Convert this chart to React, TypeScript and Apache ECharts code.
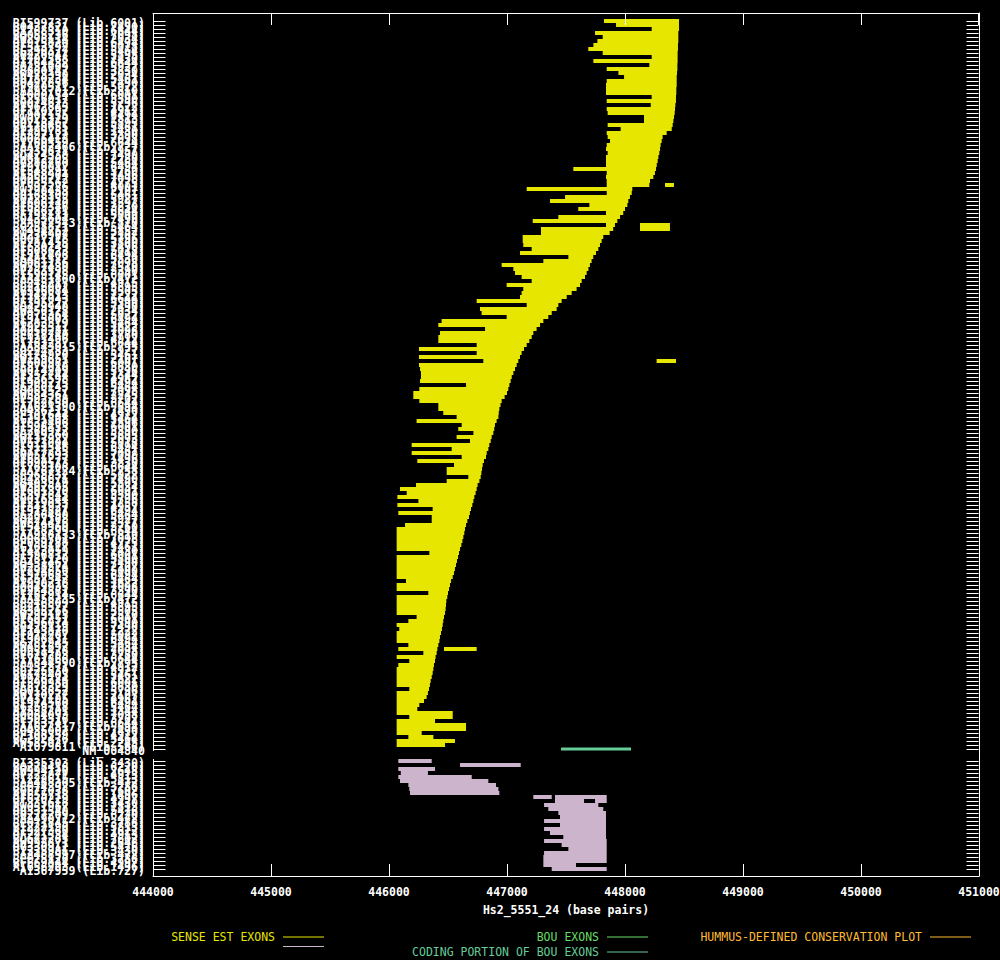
import React, { useEffect, useRef } from "react";
import * as echarts from "echarts";

// ---- axis ----
const X_MIN = 444000;
const X_MAX = 451000;
const X_INTERVAL = 1000;
const X_TICKS: number[] = [444000, 445000, 446000, 447000, 448000, 449000, 450000, 451000];
const AXIS_TITLE = "Hs2_5551_24 (base pairs)";

// ---- sense EST exons (one entry per row: start1,end1[,start2,end2]) ----
const senseExons: number[][] = [
  [447822, 448458], [447924, 448458], [448226, 448458], [447746, 448452], [447811, 448452],
  [447766, 448452], [447732, 448449], [447689, 448449], [447811, 448446], [448226, 448446],
  [447732, 448446], [448206, 448444], [447845, 448444], [447944, 448441], [447992, 448438],
  [447845, 448438], [447839, 448438], [447839, 448435], [447839, 448435], [448226, 448432],
  [447845, 448432], [448218, 448427], [447845, 448424], [447853, 448421], [448161, 448415],
  [448161, 448410], [447853, 448404], [447963, 448396], [447845, 448353], [447853, 448319],
  [447873, 448311], [447845, 448302], [447839, 448297], [447853, 448291], [447839, 448283],
  [447839, 448277], [447839, 448269], [447562, 448263], [447845, 448254], [447839, 448240],
  [447845, 448212], [447845, 448206, 448339, 448415], [447167, 448062], [447845, 448057], [447492, 448042],
  [447364, 448028], [447698, 448020], [447604, 448000], [447839, 447985], [447435, 447958],
  [447218, 447935], [447839, 447915, 448127, 448381], [447288, 447900, 448127, 448381], [447288, 447870], [447133, 447816],
  [447133, 447802], [447138, 447788], [447209, 447774], [447110, 447754], [447520, 447731],
  [447308, 447717], [446955, 447703], [447054, 447690], [447068, 447675], [447124, 447661],
  [447209, 447633], [446997, 447619], [447138, 447590], [447124, 447548], [447110, 447506],
  [446743, 447463], [447167, 447435], [446771, 447421], [446785, 447379], [446997, 447350],
  [446446, 447308], [446418, 447280], [446814, 447251], [446432, 447223], [446418, 447209],
  [446418, 447189], [446743, 447167], [446254, 447144], [446743, 447124], [446254, 447110],
  [446799, 447096, 448268, 448432], [446254, 447082], [446263, 447068], [446271, 447054], [446271, 447040],
  [446263, 447031], [446653, 447020], [446257, 447011], [446206, 447000], [446206, 446980],
  [446257, 446955], [446418, 446945], [446418, 446935], [446460, 446930], [446573, 446927],
  [446234, 446912], [446616, 446898], [446587, 446892], [446715, 446884], [446573, 446870],
  [446686, 446862], [446192, 446850], [446531, 446842], [446192, 446828], [446616, 446822],
  [446240, 446805], [446551, 446794], [446489, 446788], [446489, 446783], [446672, 446777],
  [446489, 446766], [446229, 446751], [446093, 446743], [446150, 446734], [446071, 446723],
  [446249, 446715], [446071, 446706], [446370, 446695], [446079, 446686], [446362, 446678],
  [446362, 446664], [446136, 446653], [446065, 446644], [446065, 446638], [446065, 446630],
  [446065, 446622], [446065, 446613], [446065, 446602], [446342, 446593], [446065, 446585],
  [446065, 446576], [446065, 446568], [446065, 446559], [446065, 446551], [446065, 446540],
  [446144, 446526], [446065, 446517], [446065, 446509], [446333, 446500], [446065, 446494],
  [446065, 446486], [446065, 446483], [446065, 446480], [446065, 446475], [446234, 446466],
  [446164, 446460], [446065, 446455], [446087, 446449], [446065, 446441], [446065, 446432],
  [446065, 446427], [446164, 446418], [446079, 446410, 446466, 446743], [446291, 446404], [446065, 446395],
  [446172, 446390], [446079, 446381], [446065, 446376], [446065, 446370], [446065, 446362],
  [446065, 446353], [446065, 446347], [446172, 446339], [446065, 446330], [446065, 446319],
  [446065, 446297], [446065, 446257], [446065, 446240], [446065, 446540], [446172, 446540],
  [446065, 446390], [446065, 446653], [446065, 446653], [446065, 446277], [446164, 446376],
  [446065, 446559], [446065, 446475],
];

const senseLabels: string[] = [
  "BI599737 (Lib.6001)", "BQ437821 (Lib.7490)", "BI768310 (Lib.6644)", "BQ055236 (Lib.7098)", "AW298114 (Lib.2034)",
  "BI915820 (Lib.6494)", "BF513792 (Lib.5018)", "BG290377 (Lib.5464)", "BQ220947 (Lib.5895)", "AI702568 (Lib.1430)",
  "BI764432 (Lib.6644)", "BQ231009 (Lib.5927)", "BE880147 (Lib.3830)", "AW473390 (Lib.2034)", "BG180234 (Lib.5461)",
  "BQ427856 (Lib.7490)", "BF970511 (Lib.5022)", "AA937012 (Lib.810)", "BI600154 (Lib.6001)", "BE256017 (Lib.3390)",
  "BQ014623 (Lib.5796)", "AI962845 (Lib.1622)", "BF110297 (Lib.4912)", "BI907155 (Lib.6494)", "AW025319 (Lib.1813)",
  "BQ218467 (Lib.5895)", "BG170655 (Lib.5461)", "AI299781 (Lib.1430)", "BE397122 (Lib.3390)", "BQ066413 (Lib.7098)",
  "BI760559 (Lib.6644)", "AA702466 (Lib.727)", "BF339871 (Lib.4957)", "BQ424338 (Lib.7490)", "AW612205 (Lib.2280)",
  "BG288760 (Lib.5464)", "BI910012 (Lib.6494)", "BE548291 (Lib.3760)", "AI568904 (Lib.1496)", "BQ050712 (Lib.7098)",
  "BF035562 (Lib.4775)", "BI597226 (Lib.6001)", "AW190433 (Lib.2107)", "BG168309 (Lib.5461)", "BQ228155 (Lib.5927)",
  "AI806740 (Lib.1592)", "BE889346 (Lib.3830)", "BI766281 (Lib.6644)", "BF792113 (Lib.5000)", "BQ433604 (Lib.7490)",
  "AA977543 (Lib.810)", "BG258871 (Lib.5464)", "BI494762 (Lib.5852)", "AW236907 (Lib.2107)", "BQ017718 (Lib.5796)",
  "BE781455 (Lib.3800)", "AI630149 (Lib.1496)", "BF508623 (Lib.5018)", "BI912408 (Lib.6494)", "BG481572 (Lib.5530)",
  "BQ061186 (Lib.7098)", "AW797430 (Lib.2510)", "BE263598 (Lib.3390)", "BI599145 (Lib.6001)", "AA451860 (Lib.472)",
  "BF245217 (Lib.4915)", "BQ216002 (Lib.5895)", "BG396084 (Lib.5505)", "AI142513 (Lib.1222)", "BI757043 (Lib.6644)",
  "BE395227 (Lib.3390)", "BQ429940 (Lib.7490)", "AW450178 (Lib.2034)", "BF973364 (Lib.5022)", "BI915003 (Lib.6494)",
  "BG283319 (Lib.5464)", "AI925511 (Lib.1622)", "BQ050281 (Lib.7098)", "BE618740 (Lib.3780)", "BF131406 (Lib.4912)",
  "BI763287 (Lib.6644)", "AA843015 (Lib.795)", "BQ224783 (Lib.5927)", "BG174920 (Lib.5461)", "AW169651 (Lib.2107)",
  "BI600982 (Lib.6001)", "BE879010 (Lib.3830)", "BQ014209 (Lib.5796)", "AI357744 (Lib.1344)", "BF436598 (Lib.4962)",
  "BI909275 (Lib.6494)", "BG260143 (Lib.5464)", "BQ065527 (Lib.7098)", "AW584361 (Lib.2245)", "BE502788 (Lib.3702)",
  "BI762650 (Lib.6644)", "AA621390 (Lib.694)", "BQ436215 (Lib.7490)", "BF107644 (Lib.4912)", "BG291808 (Lib.5464)",
  "AI832406 (Lib.1596)", "BI598433 (Lib.6001)", "BE260912 (Lib.3390)", "BQ219360 (Lib.5895)", "AW137922 (Lib.2093)",
  "BF513004 (Lib.5018)", "BI911546 (Lib.6494)", "BG177285 (Lib.5461)", "BQ052893 (Lib.7098)", "AI651277 (Lib.1496)",
  "BE890573 (Lib.3830)", "BI765108 (Lib.6644)", "AA767724 (Lib.758)", "BF968832 (Lib.5022)", "BQ426671 (Lib.7490)",
  "BG403519 (Lib.5505)", "AW302685 (Lib.2034)", "BI601370 (Lib.6001)", "BE397845 (Lib.3390)", "BQ016544 (Lib.5796)",
  "AI219053 (Lib.1258)", "BF341927 (Lib.4957)", "BI913827 (Lib.6494)", "BG286490 (Lib.5464)", "BQ227308 (Lib.5927)",
  "AW874416 (Lib.2577)", "BE549960 (Lib.3760)", "BI758299 (Lib.6644)", "AA928133 (Lib.810)", "BQ063701 (Lib.7098)",
  "BF039288 (Lib.4775)", "BG169117 (Lib.5461)", "AI473059 (Lib.1430)", "BI596812 (Lib.6001)", "BE781120 (Lib.3800)",
  "BQ431462 (Lib.7490)", "AW238574 (Lib.2107)", "BF794650 (Lib.5000)", "BI910683 (Lib.6494)", "BG257342 (Lib.5464)",
  "AI990218 (Lib.1622)", "BQ049935 (Lib.7098)", "BE264881 (Lib.3390)", "BI767914 (Lib.6644)", "AA456235 (Lib.472)",
  "BF246809 (Lib.4915)", "BQ215577 (Lib.5895)", "BG395266 (Lib.5505)", "AW799113 (Lib.2510)", "BI602251 (Lib.6001)",
  "BE396014 (Lib.3390)", "BQ428119 (Lib.7490)", "AI143870 (Lib.1222)", "BF972207 (Lib.5022)", "BI908731 (Lib.6494)",
  "BG282945 (Lib.5464)", "AW451692 (Lib.2034)", "BQ051478 (Lib.7098)", "BE619203 (Lib.3780)", "BI761866 (Lib.6644)",
  "AA844590 (Lib.795)", "BF132871 (Lib.4912)", "BQ225630 (Lib.5927)", "BG175403 (Lib.5461)", "AI926774 (Lib.1622)",
  "BI599980 (Lib.6001)", "BE878329 (Lib.3830)", "BQ013852 (Lib.5796)", "AW170277 (Lib.2107)", "BF437105 (Lib.4962)",
  "BI914560 (Lib.6494)", "BG259718 (Lib.5464)", "AI358201 (Lib.1344)", "BQ064093 (Lib.7098)", "BE503316 (Lib.3702)",
  "BI763741 (Lib.6644)", "AA622817 (Lib.694)", "BQ435002 (Lib.7490)", "BF108359 (Lib.4912)", "BG292476 (Lib.5464)",
  "AW585027 (Lib.2245)", "AI079811 (Lib.566)",
];

// ---- BOU (coding portion) ----
const bouLabel = "NM_004840";
const bouCoding: number[] = [447458, 448051];

// ---- antisense EST exons ----
const antisenseExons: number[][] = [
  [446079, 446362], [446602, 447116], [446079, 446390], [446100, 446330], [446079, 446701],
  [446093, 446842], [446164, 446907], [446172, 446927], [446178, 446935], [447223, 447379, 447407, 447845],
  [447407, 447653, 447746, 447845], [447314, 447774], [447350, 447816], [447435, 447839], [447449, 447839],
  [447314, 447839], [447449, 447839], [447314, 447839], [447364, 447839], [447477, 447839],
  [447314, 447845], [447463, 447845], [447520, 447845], [447314, 447845], [447308, 447845],
  [447308, 447845], [447308, 447585], [447379, 447845],
];

const antisenseLabels: string[] = [
  "BI335303 (Lib.3430)", "BQ278416 (Lib.6220)", "AW994120 (Lib.2648)", "BF222871 (Lib.4913)", "BI222615 (Lib.5813)",
  "AA488305 (Lib.472)", "BE674392 (Lib.3788)", "BQ671038 (Lib.7602)", "AI655718 (Lib.1496)", "BF670229 (Lib.4997)",
  "BI335618 (Lib.3430)", "AW051967 (Lib.1813)", "BG331540 (Lib.5476)", "BQ277209 (Lib.6220)", "AA490712 (Lib.472)",
  "BE671845 (Lib.3788)", "BI222190 (Lib.5813)", "AI927360 (Lib.1622)", "BF221534 (Lib.4913)", "BQ672285 (Lib.7602)",
  "AW993871 (Lib.2648)", "BG330912 (Lib.5476)", "BI335981 (Lib.3430)", "AA488997 (Lib.472)", "BE675120 (Lib.3788)",
  "BF669844 (Lib.4997)", "AI656203 (Lib.1496)", "AI367959 (Lib.727)",
];

// ---- legend names & colours ----
const SENSE = "SENSE EST EXONS";
const ANTISENSE = "ANTISENSE EST EXONS";
const BOU = "BOU EXONS";
const CODING = "CODING PORTION OF BOU EXONS";
const HUMMUS = "HUMMUS-DEFINED CONSERVATION PLOT";

const C_SENSE = "#e6e600";
const C_ANTI = "#ccb4cc";
const C_BOU = "#66dd66";
const C_CODING = "#66cc99";
const C_HUMMUS = "#ffbb33";

const FONT = "'DejaVu Sans Mono', 'Liberation Mono', monospace";

const Y_MIN = -2;
const Y_MAX = 213.75;
const BOU_ROW = senseExons.length; // 182
const ANTI_ROW0 = BOU_ROW + 3; // 185

function toBars(rows: number[][], row0: number) {
  const out: number[][] = [];
  rows.forEach((segs, i) => {
    for (let k = 0; k + 1 < segs.length; k += 2) out.push([segs[k], segs[k + 1], row0 + i]);
  });
  return out;
}

function xAxisBase(position: string) {
  return {
    type: "value",
    position,
    min: X_MIN,
    max: X_MAX,
    interval: X_INTERVAL,
    axisLine: { show: true, onZero: false, lineStyle: { color: "#fff", width: 1 } },
    axisTick: { show: true, inside: true, length: 12, lineStyle: { color: "#fff", width: 1 } },
    splitLine: { show: false },
  };
}

export default function App() {
  const ref = useRef<HTMLDivElement>(null);

  useEffect(() => {
    if (!ref.current) return;
    const chart = echarts.init(ref.current, null, { renderer: "svg" });

    const senseData = toBars(senseExons, 0);
    const antiData = toBars(antisenseExons, ANTI_ROW0);
    const codingData = [[bouCoding[0], bouCoding[1], BOU_ROW]];

    const allLabels: string[] = [...senseLabels, bouLabel, ...antisenseLabels];
    const labelRows: number[] = [
      ...senseLabels.map((_, i) => i),
      BOU_ROW,
      ...antisenseLabels.map((_, i) => ANTI_ROW0 + i),
    ];
    const labelData = labelRows.map((r) => [X_MIN, r]);

    const barRender = (hFrac: number) => (params: any, api: any) => {
      const s = api.coord([api.value(0), api.value(2)]);
      const e = api.coord([api.value(1), api.value(2)]);
      const h = api.size([0, 1])[1] * hFrac;
      return {
        type: "rect",
        shape: { x: s[0], y: s[1] - h / 2, width: Math.max(1, e[0] - s[0]), height: h },
        style: { fill: api.visual("color") },
      };
    };

    const labelRender = (params: any, api: any) => {
      const row = api.value(1);
      const p = api.coord([X_MIN, row]);
      const q = api.coord([X_MAX, row]);
      const h = api.size([0, 1])[1];
      const y = Math.round(p[1]) + 0.5;
      const xl = Math.round(p[0]) + 0.5;
      const xr = Math.round(q[0]) - 0.5;
      const children: any[] = [
        { type: "line", shape: { x1: xl, y1: y, x2: xl + 12, y2: y }, style: { stroke: "#fff", lineWidth: 1 } },
        { type: "line", shape: { x1: xl, y1: p[1] - h / 2, x2: xl, y2: p[1] + h / 2 }, style: { stroke: "#fff", lineWidth: 1 } },
        { type: "line", shape: { x1: xr - 12, y1: y, x2: xr, y2: y }, style: { stroke: "#fff", lineWidth: 1 } },
        {
          type: "text",
          x: p[0] - 8,
          y: p[1] + 2,
          scaleX: 0.89,
          style: {
            text: allLabels[params.dataIndex],
            fill: "#fff",
            fontFamily: "DejaVu Sans Mono",
            fontWeight: "bold",
            fontSize: 13,
            align: "right",
            verticalAlign: "middle",
          },
        },
      ];
      if (params.dataIndex === 0) {
        // ticks hanging down from the top frame line at each axis tick value
        X_TICKS.forEach((v) => {
          const t = api.coord([v, Y_MIN]);
          let tx = Math.round(t[0]) + 0.5;
          if (v === X_MAX) tx -= 1;
          children.push({
            type: "line",
            shape: { x1: tx, y1: t[1], x2: tx, y2: t[1] + 12 },
            style: { stroke: "#fff", lineWidth: 1 },
          });
        });
      }
      return { type: "group", children };
    };

    const legendBase = (name: string, color: string, right: number, top: number, hideText = false) => ({
      data: [{ name, itemStyle: { color }, textStyle: { color } }],
      right,
      top,
      padding: 0,
      icon: "rect",
      itemWidth: 41,
      itemHeight: 1,
      align: "right",
      selectedMode: false,
      formatter: hideText ? () => "" : (n: string) => n,
      textStyle: { color, fontFamily: FONT, fontSize: 11.5, lineHeight: 12, padding: [0, 3, 0, 0] },
    });

    chart.setOption({
      animation: false,
      backgroundColor: "#000",
      grid: { left: 153, right: 21, top: 13, bottom: 84, containLabel: false, outerBoundsMode: "none" },
      xAxis: [
        {
          ...xAxisBase("bottom"),
          name: AXIS_TITLE,
          nameLocation: "middle",
          nameGap: 28,
          nameTextStyle: { color: "#fff", fontFamily: FONT, fontSize: 11.5, fontWeight: "bold" },
          axisLabel: {
            show: true,
            color: "#fff",
            fontFamily: FONT,
            fontSize: 11.5,
            fontWeight: "bold",
            margin: 10,
            showMinLabel: true,
            showMaxLabel: true,
            hideOverlap: false,
            formatter: (v: number) => String(v),
          },
        },
        {
          ...xAxisBase("top"),
          axisLabel: { show: false },
        },
      ],
      yAxis: {
        type: "value",
        inverse: true,
        min: Y_MIN,
        max: Y_MAX,
        position: "right",
        axisLine: { show: true, onZero: false, lineStyle: { color: "#fff", width: 1 } },
        axisTick: { show: false },
        axisLabel: { show: false },
        splitLine: { show: false },
      },
      legend: [
        legendBase(SENSE, C_SENSE, 1000 - 324, 931),
        legendBase(ANTISENSE, C_ANTI, 1000 - 324, 946, true),
        legendBase(BOU, C_BOU, 1000 - 648, 931),
        legendBase(CODING, C_CODING, 1000 - 648, 946),
        legendBase(HUMMUS, C_HUMMUS, 1000 - 971, 931),
      ],
      series: [
        {
          name: SENSE,
          type: "custom",
          renderItem: barRender(1),
          encode: { x: [0, 1], y: 2 },
          itemStyle: { color: C_SENSE },
          data: senseData,
          silent: true,
        },
        {
          name: ANTISENSE,
          type: "custom",
          renderItem: barRender(1),
          encode: { x: [0, 1], y: 2 },
          itemStyle: { color: C_ANTI },
          data: antiData,
          silent: true,
        },
        {
          name: BOU,
          type: "line",
          data: [],
          itemStyle: { color: C_BOU },
          lineStyle: { color: C_BOU },
        },
        {
          name: CODING,
          type: "custom",
          renderItem: barRender(0.75),
          encode: { x: [0, 1], y: 2 },
          itemStyle: { color: C_CODING },
          data: codingData,
          silent: true,
        },
        {
          name: HUMMUS,
          type: "line",
          data: [],
          itemStyle: { color: C_HUMMUS },
          lineStyle: { color: C_HUMMUS },
        },
        {
          name: "row labels",
          type: "custom",
          renderItem: labelRender,
          encode: { x: 0, y: 1 },
          clip: false,
          silent: true,
          data: labelData,
        },
      ],
    });

    return () => chart.dispose();
  }, []);

  return (
    <div
      ref={ref}
      style={{ position: "absolute", left: 0, top: 0, width: 1000, height: 960, background: "#000" }}
    />
  );
}
